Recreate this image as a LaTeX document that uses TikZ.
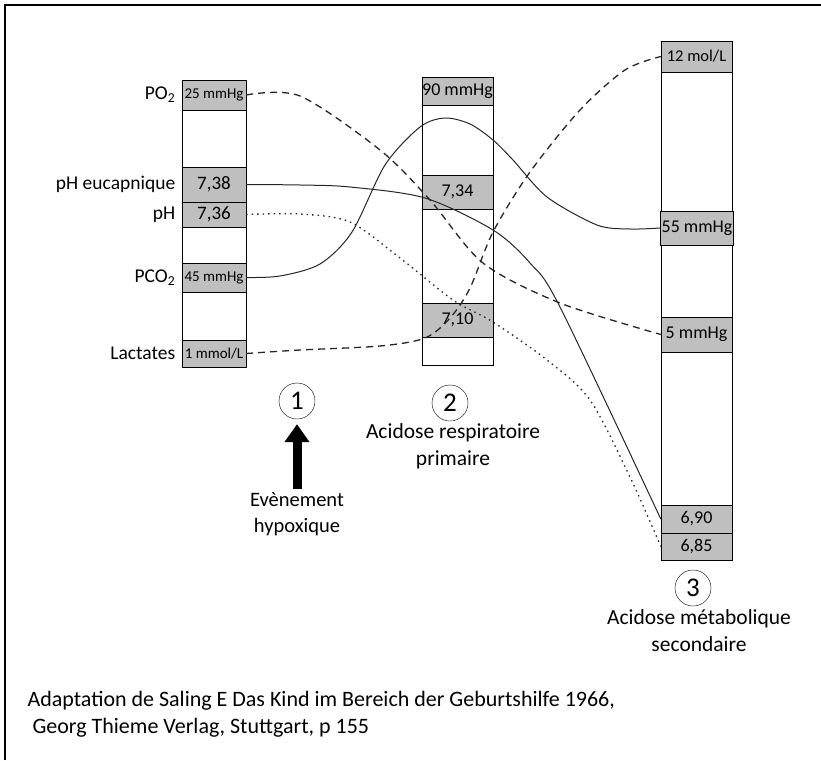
\documentclass[tikz,border=0pt]{standalone}
\usepackage{fontspec}
\setmainfont{Carlito}
\usetikzlibrary{arrows.meta,positioning}
\definecolor{cellgray}{gray}{0.75}

\begin{document}
\begin{tikzpicture}[x=1pt,y=-1pt,>=Latex,
  cell/.style={draw,fill=cellgray,inner sep=0pt,minimum width=71pt,minimum height=#1,
    font=\fontsize{18}{20}\selectfont},
  smallcell/.style={minimum width=64pt,font=\fontsize{15}{17}\selectfont},
  param/.style={left=3pt of #1,font=\fontsize{19.5}{21}\selectfont},
  num/.style={circle,draw,thin,minimum size=36pt,inner sep=0pt,font=\fontsize{27}{27}\selectfont},
  legend/.style={align=center,font=\fontsize{21.5}{27}\selectfont},
  solidcurve/.style={black!85,line width=1pt},
  dashedcurve/.style={black!85,line width=1.3pt,dash pattern=on 7pt off 5pt},
  dottedcurve/.style={black!85,line width=1.3pt,dash pattern=on 1.5pt off 4pt}]
  \useasboundingbox (0,0) rectangle (821,760);
  \draw[line width=1.5pt] (5,760) -- (5,5) -- (821,5);

  % columns
  \draw (182,80) rectangle (246,367);
  \draw (422,77) rectangle (493,365);
  \draw (661,41) rectangle (732,560);

  % state 1
  \node[cell=30pt,smallcell] (po2a) at (214,95) {25 mmHg};
  \node[cell=35pt,font=\fontsize{19}{21}\selectfont,minimum width=64pt] (eua) at (214,184.5) {7,38};
  \node[cell=25pt,font=\fontsize{19}{21}\selectfont,minimum width=64pt] (pha) at (214,214.5) {7,36};
  \node[cell=29pt,smallcell] (pco2a) at (214,277.5) {45 mmHg};
  \node[cell=27pt,smallcell] (lacta) at (214,353.5) {1 mmol/L};

  % state 2
  \node[cell=28pt] (pco2b) at (457.5,91) {90 mmHg};
  \node[cell=34pt] (eub) at (457.5,192) {7,34};
  \node[cell=34pt] (phb) at (457.5,320) {7,10};

  % state 3
  \node[cell=31pt,font=\fontsize{16.5}{18}\selectfont] (lactc) at (696.5,56.5) {12 mol/L};
  \node[cell=34pt,minimum width=73pt] (pco2c) at (697,228) {55 mmHg};
  \node[cell=35pt] (po2c) at (696.5,334.5) {5 mmHg};
  \node[cell=28pt] (euc) at (696.5,519) {6,90};
  \node[cell=27pt] (phc) at (696.5,546.5) {6,85};

  \node[param=po2a] {PO\textsubscript{2}};
  \node[param=eua] {pH eucapnique};
  \node[param=pha] {pH};
  \node[param=pco2a] {PCO\textsubscript{2}};
  \node[param=lacta] {Lactates};

  \node[num] (c1) at (297,401) {1};
  \node[num] (c2) at (450,403) {2};
  \node[num] (c3) at (693,588) {3};
  \node[legend,font=\fontsize{20.5}{26}\selectfont,below=70pt of c1] (evt) {Evènement\\hypoxique};
  \node[legend] (resp) at (453,446) {Acidose respiratoire\\primaire};
  \node[legend] (meta) at (699,631) {Acidose métabolique\\secondaire};
  \draw[-{Triangle[width=24pt,length=18pt]},line width=9pt,shorten >=5pt] (evt.north) -- (c1.south);

  % curves
  \draw[dashedcurve] plot[smooth] coordinates {(po2a.east) (300,96) (380,150) (430,200)
    (483,263) (560,303) (po2c.west)};
  \draw[dashedcurve] plot[smooth] coordinates {(lacta.east) (300,350) (380,346) (425,338)
    (450,318) (470,288) (493,232) (530,172) (580,110) (625,70) (lactc.west)};
  \draw[solidcurve] plot[smooth] coordinates {(pco2a.east) (280,276) (320,264) (352,232)
    (385,165) (420,127) (445,118) (470,124) (493,140) (513,160) (547,197) (597,225)
    (630,229) (pco2c.west)};
  \draw[solidcurve] plot[smooth] coordinates {(eua.east) (300,185) (350,187) (425,198)
    (493,230) (530,263) (560,307) (euc.west)};
  \draw[dottedcurve] plot[smooth] coordinates {(pha.east) (300,214) (350,222) (400,258)
    (453,300) (493,322) (547,360) (590,400) (630,477) (phc.west)};

  \node[anchor=north west,align=left,font=\fontsize{22}{27}\selectfont] (src) at (24,688)
    {Adaptation de Saling E Das Kind im Bereich der Geburtshilfe 1966,\\
     \hspace*{5pt}Georg Thieme Verlag, Stuttgart, p 155};
\end{tikzpicture}
\end{document}
